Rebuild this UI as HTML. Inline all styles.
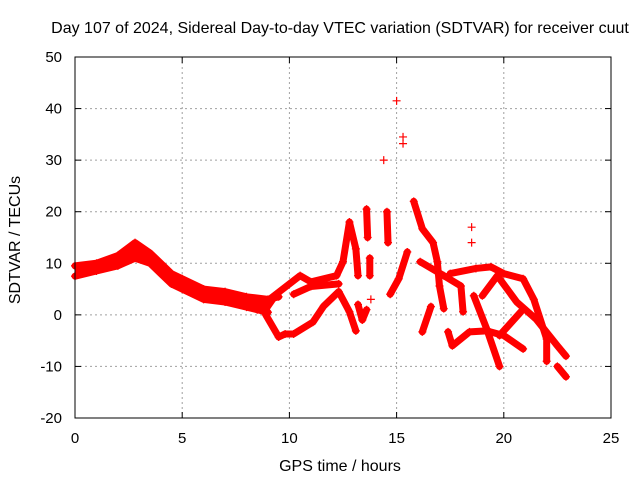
<!DOCTYPE html>
<html><head><meta charset="utf-8"><style>
body{margin:0;background:#fff}
svg{display:block;font-family:"Liberation Sans",sans-serif}
</style></head><body>
<svg id="c" width="640" height="480">
<text x="340" y="33" text-anchor="middle" font-size="16">Day 107 of 2024, Sidereal Day-to-day VTEC variation (SDTVAR) for receiver cuut</text>
<text x="340" y="471" text-anchor="middle" font-size="16">GPS time / hours</text>
<text transform="translate(20,240) rotate(-90)" text-anchor="middle" font-size="16">SDTVAR / TECUs</text>
<g id="grid"></g><g id="marks"></g>
<rect x="75" y="57" width="536" height="361" fill="none" stroke="#000"/>
</svg>
<script>
const xTicks=[0,5,10,15,20,25];
const yTicks=[-20,-10,0,10,20,30,40,50];
const trackTopX=[0,1,2,2.8,3.5,4,4.5,5,6,7,8,9,9.5];
const trackTopY=[9.5,10,11.5,14,12,10,8,7,5,4.5,3.5,3,3.5];
const trackBotX=[0,1,2,2.8,3.5,4,4.5,5,6,7,8,8.5,9];
const trackBotY=[7.5,8.5,9.5,11,10,8,6,5,3,2.5,1.5,1,0.5];
const trackUpX=[9.1,10.5,11,12.2,12.5,12.8,13.1,13.2];
const trackUpY=[3.1,7.6,6.4,7.6,10.3,18,12.8,7.6];
const trackMidX=[10.2,11,12.3];
const trackMidY=[4,5.5,6];
const trackLowX=[8.9,9.5,9.8,10.2,11.1,11.6,12.3,12.8,13.1];
const trackLowY=[0,-4.3,-3.7,-3.7,-1.4,1.7,4.5,0.6,-3.1];
const clusterX=[13.2,13.4,13.6];
const clusterY=[2,-1,1];
const spikeAX=[13.6,13.65];const spikeAY=[20.5,15];
const spikeBX=[13.75,13.75];const spikeBY=[11,7.6];
const spikeCX=[14.55,14.6];const spikeCY=[20,14];
const riseX=[14.7,15.1,15.5];const riseY=[4,7,12.2];
const fallAX=[15.8,16.2,16.7,16.9,17,17.2];
const fallAY=[22,16.7,14,10.3,5.6,1.2];
const fallBX=[16.1,17.2,18,18.1];const fallBY=[10.3,7.6,5.6,0.6];
const shortX=[16.2,16.6];const shortY=[-3.3,1.6];
const bottomX=[17.4,17.6,18.4,19.2,20,20.9];
const bottomY=[-3.3,-6,-3.3,-3.1,-4,-6.6];
const steepX=[18.6,19.2,19.8];const steepY=[3.7,-2.7,-10];
const topRX=[17.5,18.7,19.4,20,20.9,21.4,22,22];
const topRY=[8,9,9.3,8,7,3,-4.7,-9];
const midRX=[19,19.7,20.6,21.5,22.5,22.9];
const midRY=[3.7,7.6,2.5,-0.8,-6,-8];
const xLineX=[19.8,20.8];const xLineY=[-4,0.6];
const tailX=[22.5,22.9];const tailY=[-10,-12];
const isoX=[14.4,15,15.3,15.3,18.5,13.8,18.5];
const isoY=[30,41.5,34.5,33.2,17,3,14];
const tracks=[[trackTopX,trackTopY],[trackBotX,trackBotY],[trackUpX,trackUpY],[trackMidX,trackMidY],[trackLowX,trackLowY],[clusterX,clusterY],[spikeAX,spikeAY],[spikeBX,spikeBY],[spikeCX,spikeCY],[riseX,riseY],[fallAX,fallAY],[fallBX,fallBY],[shortX,shortY],[bottomX,bottomY],[steepX,steepY],[topRX,topRY],[midRX,midRY],[xLineX,xLineY],[tailX,tailY]];
const NS="http://www.w3.org/2000/svg";
const sx=v=>75+v*(536/25), sy=v=>418-(v+20)*(361/70);
const grid=document.getElementById('grid'), marks=document.getElementById('marks');
function mk(t,a,p){const e=document.createElementNS(NS,t);for(const k in a)e.setAttribute(k,a[k]);p.appendChild(e);return e;}
xTicks.forEach(t=>{
 const x=sx(t);
 if(t>0&&t<25){const l=mk('line',{x1:x,x2:x,y1:57,y2:418,stroke:'#a0a0a0','stroke-dasharray':'2,3'},grid);
 
 }
 mk('line',{x1:x,x2:x,y1:418,y2:412,stroke:'#000'},grid);mk('line',{x1:x,x2:x,y1:57,y2:63,stroke:'#000'},grid);
 const tx=mk('text',{x:x,y:443,'text-anchor':'middle','font-size':15},grid);tx.textContent=t;
 
 
});
yTicks.forEach(t=>{
 const y=sy(t);
 if(t>-20&&t<50){const l=mk('line',{x1:75,x2:611,y1:y,y2:y,stroke:'#a0a0a0','stroke-dasharray':'2,3'},grid);
 
 }
 mk('line',{x1:75,x2:81,y1:y,y2:y,stroke:'#000'},grid);mk('line',{x1:611,x2:605,y1:y,y2:y,stroke:'#000'},grid);
 const tx=mk('text',{x:62,y:y+5,'text-anchor':'end','font-size':15},grid);tx.textContent=t;
 
 
});
// band fill between top and bottom edges of the early main track
const band=mk('polygon',{points:trackTopX.map((v,i)=>sx(v)+','+sy(trackTopY[i])).concat(trackBotX.map((v,i)=>sx(v)+','+sy(trackBotY[i])).reverse()).join(' '),fill:'#f00'},marks);


function plus(x,y){const p=mk('path',{d:`M${x-4},${y}h8M${x},${y-4}v8`,stroke:'#f00','stroke-width':1.2,fill:'none'},marks);
 
 }
tracks.forEach(([xs,ys])=>{
 const pl=mk('polyline',{points:xs.map((v,i)=>sx(v)+','+sy(ys[i])).join(' '),fill:'none',stroke:'#f00','stroke-width':7,'stroke-linejoin':'round','stroke-linecap':'round'},marks);
 
 
 xs.forEach((v,i)=>plus(sx(v),sy(ys[i])));
});
isoX.forEach((v,i)=>plus(sx(v),sy(isoY[i])));
</script>
</body></html>
